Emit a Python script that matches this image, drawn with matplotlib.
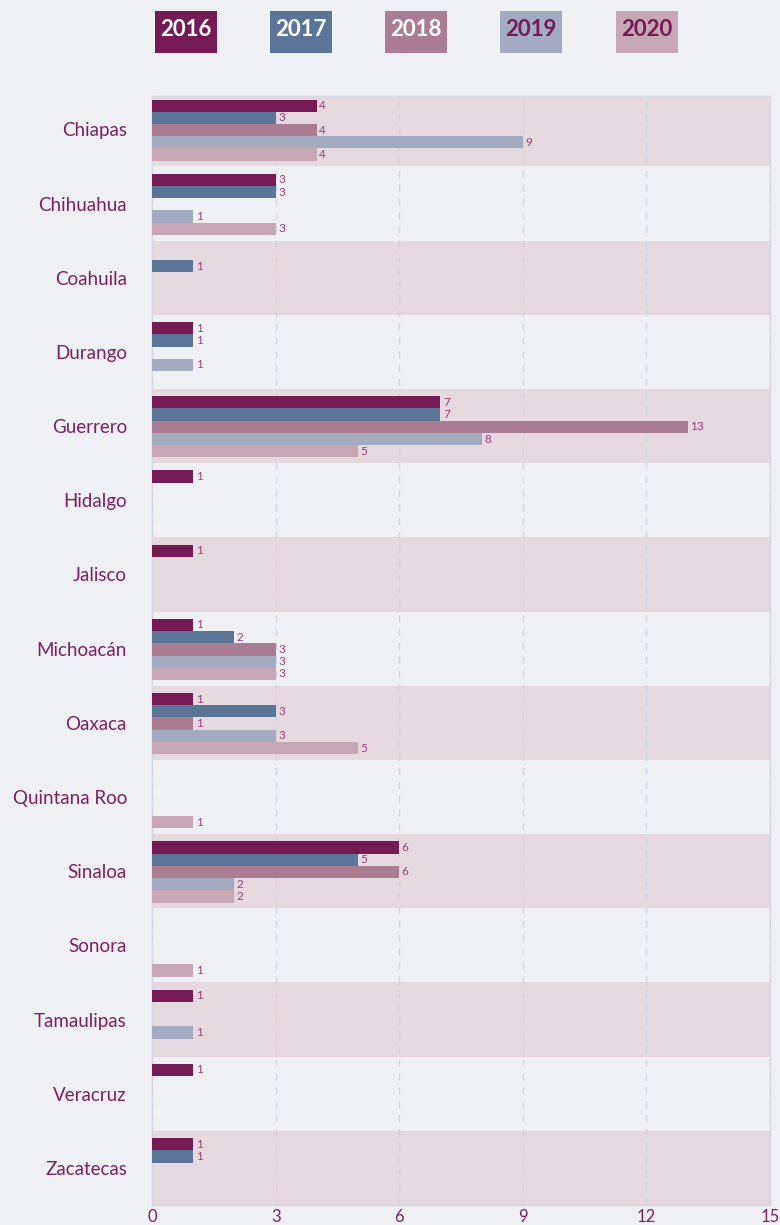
import numpy as np
import matplotlib.pyplot as plt
from matplotlib.patches import Rectangle

plt.rcParams['font.family'] = ['Lato', 'DejaVu Sans']

# Data
states = ["Chiapas", "Chihuahua", "Coahuila", "Durango", "Guerrero", "Hidalgo",
          "Jalisco", "Michoacán", "Oaxaca", "Quintana Roo", "Sinaloa", "Sonora",
          "Tamaulipas", "Veracruz", "Zacatecas"]
years = ["2016", "2017", "2018", "2019", "2020"]
v2016 = [4, 3, 0, 1, 7, 1, 1, 1, 1, 0, 6, 0, 1, 1, 1]
v2017 = [3, 3, 1, 1, 7, 0, 0, 2, 3, 0, 5, 0, 0, 0, 1]
v2018 = [4, 0, 0, 0, 13, 0, 0, 3, 1, 0, 6, 0, 0, 0, 0]
v2019 = [9, 1, 0, 1, 8, 0, 0, 3, 3, 0, 2, 0, 1, 0, 0]
v2020 = [4, 3, 0, 0, 5, 0, 0, 3, 5, 1, 2, 1, 0, 0, 0]
series = [v2016, v2017, v2018, v2019, v2020]
colors = ["#761a55", "#5b7598", "#ab7d93", "#a3abc0", "#c7a7b6"]
legend_text_colors = ["white", "white", "white", "#761a55", "#761a55"]

BG = "#eff0f4"
BAND = "#e5d8df"
TXT = "#7b2060"
VAL = "#9b3d7a"
GRID = "#cfd4e0"

fig = plt.figure(figsize=(7.8, 12.25), dpi=100, facecolor=BG)
ax = fig.add_axes([152/780, 1 - 1205/1225, 618/780, 1109/1225])
ax.set_facecolor(BG)

n = len(states)
y = np.arange(n)

# alternating bands
for i in range(0, n, 2):
    ax.axhspan(i - 0.5, i + 0.5, color=BAND, zorder=0, lw=0)

h = 0.165
for k, (vals, c) in enumerate(zip(series, colors)):
    pos = y + (k - 2) * h + 0.01
    vals = np.array(vals, dtype=float)
    mask = vals > 0
    ax.barh(pos[mask], vals[mask], height=h, color=c, zorder=3, lw=0)
    for p, v in zip(pos[mask], vals[mask]):
        ax.text(v + 0.06, p, f"{int(v)}", va="center", ha="left",
                fontsize=8.5, color=VAL, zorder=4)

ax.set_xlim(0, 15)
ax.set_ylim(n - 0.5, -0.45)
ax.set_xticks([0, 3, 6, 9, 12, 15])
ax.set_yticks(y)
ax.set_yticklabels(states)
ax.tick_params(axis="y", length=0, pad=18, labelsize=13.5, labelcolor=TXT)
ax.tick_params(axis="x", length=0, pad=3, labelsize=12, labelcolor=TXT)
ax.xaxis.grid(True, linestyle=(0, (5, 5)), color=GRID, lw=1, zorder=1)
for s in ax.spines.values():
    s.set_color("#d5d8e3")
    s.set_linewidth(1)

# legend boxes
lx = [155, 270, 385, 500, 616]
for x0, yr, c, tc in zip(lx, years, colors, legend_text_colors):
    fig.patches.append(Rectangle((x0/780, 1 - 53/1225), 62/780, 42/1225,
                                 transform=fig.transFigure, color=c, lw=0))
    fig.text((x0 + 31)/780, 1 - 30/1225, yr, ha="center", va="center",
             fontsize=16, fontweight="bold", color=tc)

fig.savefig("out.png", dpi=100, facecolor=BG)
